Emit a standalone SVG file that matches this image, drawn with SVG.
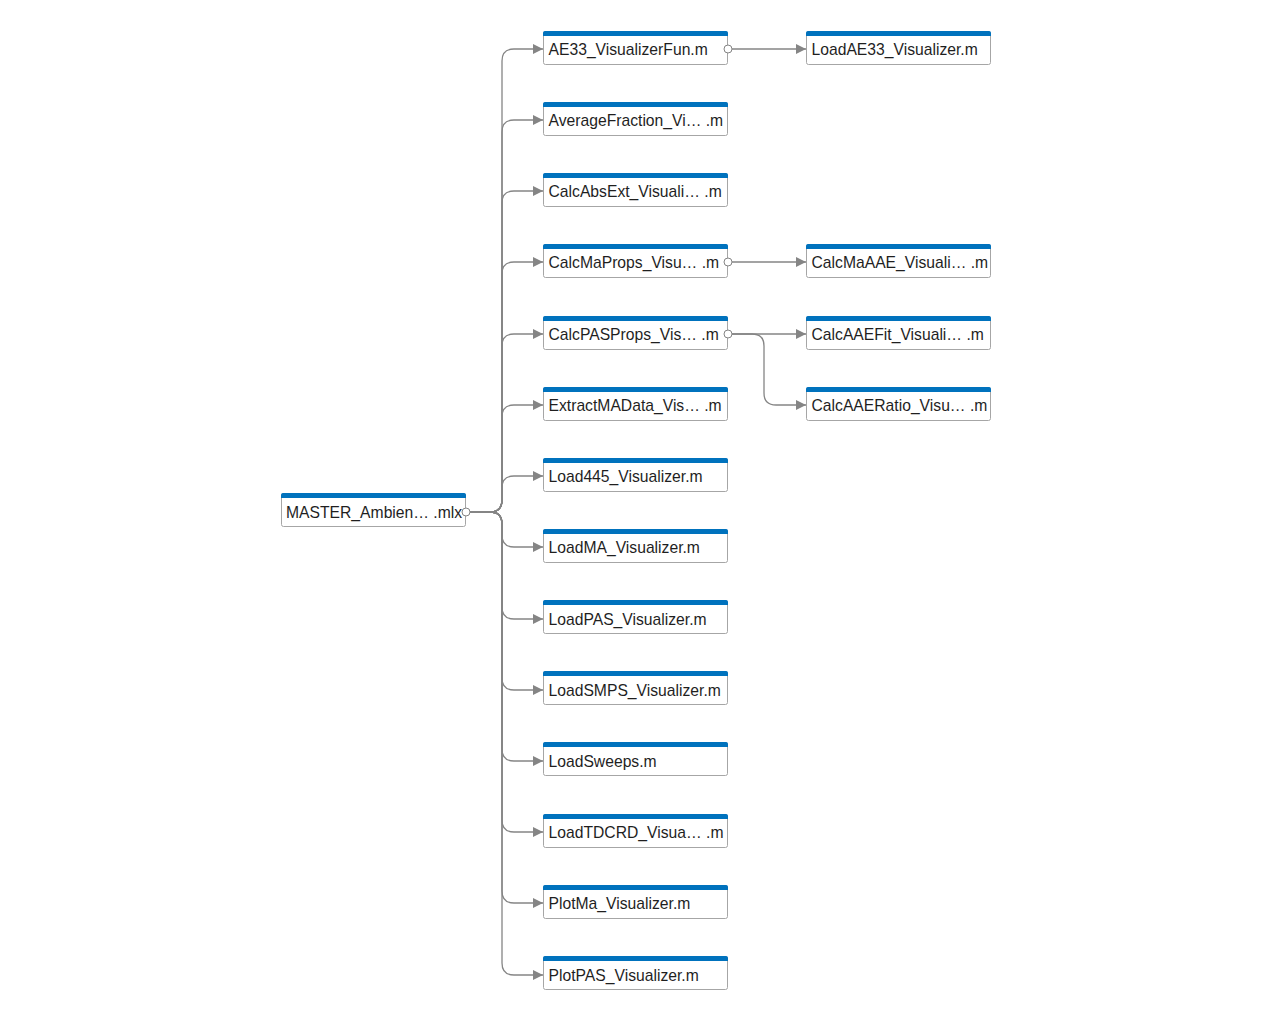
<svg xmlns="http://www.w3.org/2000/svg" width="1271" height="1020" viewBox="0 0 1271 1020">
<style>
.box{fill:#fff;stroke:#a6a6a6;stroke-width:1}
.bar{fill:#0072bd}
.t{font-family:"Liberation Sans",Arial,sans-serif;font-size:15.7px;fill:#1f1f1f}
.c{fill:none;stroke:#858585;stroke-width:1.3}
.port{fill:#fff;stroke:#858585;stroke-width:1}
</style>
<defs>
<marker id="ar" markerUnits="userSpaceOnUse" viewBox="0 0 10 10" refX="10" refY="5" markerWidth="10" markerHeight="10" orient="auto">
<path d="M0,0 L10,5 L0,10 z" fill="#858585"/>
</marker>
</defs>
<g id="n_master"><rect class="box" x="281.5" y="493.5" width="184" height="33" rx="2"/><path class="bar" d="M281 498 V495 Q281 493 283 493 H464 Q466 493 466 495 V498 Z"/><text class="t" x="286" y="518">MASTER_Ambien… .mlx</text></g>
<g id="n1"><rect class="box" x="543.5" y="31.5" width="184" height="33" rx="2"/><path class="bar" d="M543 36 V33 Q543 31 545 31 H726 Q728 31 728 33 V36 Z"/><text class="t" x="548.5" y="55">AE33_VisualizerFun.m</text></g>
<g id="n2"><rect class="box" x="543.5" y="102.5" width="184" height="33" rx="2"/><path class="bar" d="M543 107 V104 Q543 102 545 102 H726 Q728 102 728 104 V107 Z"/><text class="t" x="548.5" y="126">AverageFraction_Vi… .m</text></g>
<g id="n3"><rect class="box" x="543.5" y="173.5" width="184" height="33" rx="2"/><path class="bar" d="M543 178 V175 Q543 173 545 173 H726 Q728 173 728 175 V178 Z"/><text class="t" x="548.5" y="197">CalcAbsExt_Visuali… .m</text></g>
<g id="n4"><rect class="box" x="543.5" y="244.5" width="184" height="33" rx="2"/><path class="bar" d="M543 249 V246 Q543 244 545 244 H726 Q728 244 728 246 V249 Z"/><text class="t" x="548.5" y="268">CalcMaProps_Visu… .m</text></g>
<g id="n5"><rect class="box" x="543.5" y="316.5" width="184" height="33" rx="2"/><path class="bar" d="M543 321 V318 Q543 316 545 316 H726 Q728 316 728 318 V321 Z"/><text class="t" x="548.5" y="340">CalcPASProps_Vis… .m</text></g>
<g id="n6"><rect class="box" x="543.5" y="387.5" width="184" height="33" rx="2"/><path class="bar" d="M543 392 V389 Q543 387 545 387 H726 Q728 387 728 389 V392 Z"/><text class="t" x="548.5" y="411">ExtractMAData_Vis… .m</text></g>
<g id="n7"><rect class="box" x="543.5" y="458.5" width="184" height="33" rx="2"/><path class="bar" d="M543 463 V460 Q543 458 545 458 H726 Q728 458 728 460 V463 Z"/><text class="t" x="548.5" y="482">Load445_Visualizer.m</text></g>
<g id="n8"><rect class="box" x="543.5" y="529.5" width="184" height="33" rx="2"/><path class="bar" d="M543 534 V531 Q543 529 545 529 H726 Q728 529 728 531 V534 Z"/><text class="t" x="548.5" y="553">LoadMA_Visualizer.m</text></g>
<g id="n9"><rect class="box" x="543.5" y="600.5" width="184" height="33" rx="2"/><path class="bar" d="M543 605 V602 Q543 600 545 600 H726 Q728 600 728 602 V605 Z"/><text class="t" x="548.5" y="625">LoadPAS_Visualizer.m</text></g>
<g id="n10"><rect class="box" x="543.5" y="671.5" width="184" height="33" rx="2"/><path class="bar" d="M543 676 V673 Q543 671 545 671 H726 Q728 671 728 673 V676 Z"/><text class="t" x="548.5" y="696">LoadSMPS_Visualizer.m</text></g>
<g id="n11"><rect class="box" x="543.5" y="742.5" width="184" height="33" rx="2"/><path class="bar" d="M543 747 V744 Q543 742 545 742 H726 Q728 742 728 744 V747 Z"/><text class="t" x="548.5" y="767">LoadSweeps.m</text></g>
<g id="n12"><rect class="box" x="543.5" y="814.5" width="184" height="33" rx="2"/><path class="bar" d="M543 819 V816 Q543 814 545 814 H726 Q728 814 728 816 V819 Z"/><text class="t" x="548.5" y="838">LoadTDCRD_Visua… .m</text></g>
<g id="n13"><rect class="box" x="543.5" y="885.5" width="184" height="33" rx="2"/><path class="bar" d="M543 890 V887 Q543 885 545 885 H726 Q728 885 728 887 V890 Z"/><text class="t" x="548.5" y="909">PlotMa_Visualizer.m</text></g>
<g id="n14"><rect class="box" x="543.5" y="956.5" width="184" height="33" rx="2"/><path class="bar" d="M543 961 V958 Q543 956 545 956 H726 Q728 956 728 958 V961 Z"/><text class="t" x="548.5" y="981">PlotPAS_Visualizer.m</text></g>
<g id="r1"><rect class="box" x="806.5" y="31.5" width="184" height="33" rx="2"/><path class="bar" d="M806 36 V33 Q806 31 808 31 H989 Q991 31 991 33 V36 Z"/><text class="t" x="811.5" y="55">LoadAE33_Visualizer.m</text></g>
<g id="r2"><rect class="box" x="806.5" y="244.5" width="184" height="33" rx="2"/><path class="bar" d="M806 249 V246 Q806 244 808 244 H989 Q991 244 991 246 V249 Z"/><text class="t" x="811.5" y="268">CalcMaAAE_Visuali… .m</text></g>
<g id="r3"><rect class="box" x="806.5" y="316.5" width="184" height="33" rx="2"/><path class="bar" d="M806 321 V318 Q806 316 808 316 H989 Q991 316 991 318 V321 Z"/><text class="t" x="811.5" y="340">CalcAAEFit_Visuali… .m</text></g>
<g id="r4"><rect class="box" x="806.5" y="387.5" width="184" height="33" rx="2"/><path class="bar" d="M806 392 V389 Q806 387 808 387 H989 Q991 387 991 389 V392 Z"/><text class="t" x="811.5" y="411">CalcAAERatio_Visu… .m</text></g>
<g id="connectors">
<path class="c" marker-end="url(#ar)" d="M470 512 H490 Q502 512 502 500 V61 Q502 49 514 49 H543"/>
<path class="c" marker-end="url(#ar)" d="M470 512 H490 Q502 512 502 500 V132 Q502 120 514 120 H543"/>
<path class="c" marker-end="url(#ar)" d="M470 512 H490 Q502 512 502 500 V203 Q502 191 514 191 H543"/>
<path class="c" marker-end="url(#ar)" d="M470 512 H490 Q502 512 502 500 V274 Q502 262 514 262 H543"/>
<path class="c" marker-end="url(#ar)" d="M470 512 H490 Q502 512 502 500 V346 Q502 334 514 334 H543"/>
<path class="c" marker-end="url(#ar)" d="M470 512 H490 Q502 512 502 500 V417 Q502 405 514 405 H543"/>
<path class="c" marker-end="url(#ar)" d="M470 512 H490 Q502 512 502 500 V488 Q502 476 514 476 H543"/>
<path class="c" marker-end="url(#ar)" d="M470 512 H490 Q502 512 502 524 V535 Q502 547 514 547 H543"/>
<path class="c" marker-end="url(#ar)" d="M470 512 H490 Q502 512 502 524 V607 Q502 619 514 619 H543"/>
<path class="c" marker-end="url(#ar)" d="M470 512 H490 Q502 512 502 524 V678 Q502 690 514 690 H543"/>
<path class="c" marker-end="url(#ar)" d="M470 512 H490 Q502 512 502 524 V749 Q502 761 514 761 H543"/>
<path class="c" marker-end="url(#ar)" d="M470 512 H490 Q502 512 502 524 V820 Q502 832 514 832 H543"/>
<path class="c" marker-end="url(#ar)" d="M470 512 H490 Q502 512 502 524 V891 Q502 903 514 903 H543"/>
<path class="c" marker-end="url(#ar)" d="M470 512 H490 Q502 512 502 524 V963 Q502 975 514 975 H543"/>
<path class="c" marker-end="url(#ar)" d="M732 49 H806"/>
<path class="c" marker-end="url(#ar)" d="M732 262 H806"/>
<path class="c" marker-end="url(#ar)" d="M732 334 H806"/>
<path class="c" marker-end="url(#ar)" d="M732 334 H752 Q764 334 764 346 V393 Q764 405 776 405 H806"/>
<circle class="port" cx="466" cy="512" r="4"/>
<circle class="port" cx="728" cy="49" r="4"/>
<circle class="port" cx="728" cy="262" r="4"/>
<circle class="port" cx="728" cy="334" r="4"/>
</g>
</svg>
